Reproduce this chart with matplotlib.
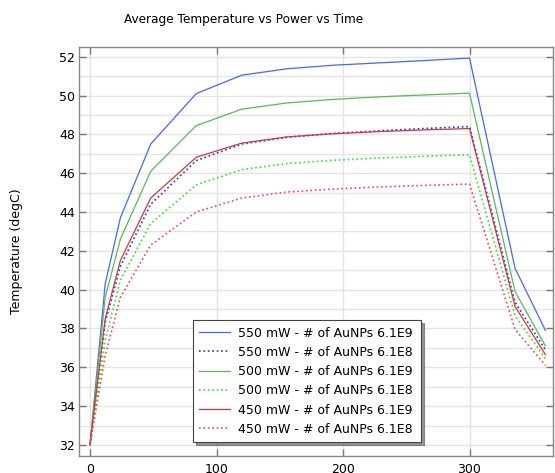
import matplotlib
matplotlib.use("Agg")
import matplotlib.pyplot as plt
from matplotlib.ticker import MultipleLocator

# Sample times (s)
time = [0, 12, 24, 48, 84, 120, 156, 192, 228, 264, 300, 336, 360]

# Average temperature (degC) per laser power / nanoparticle count
t550_e9 = [32.0, 40.3, 43.7, 47.5, 50.1, 51.05, 51.38, 51.56, 51.68, 51.8, 51.93, 41.1, 37.9]
t550_e8 = [32.0, 38.3, 41.2, 44.4, 46.65, 47.5, 47.85, 48.05, 48.18, 48.3, 48.4, 39.35, 36.9]
t500_e9 = [32.0, 39.6, 42.6, 46.1, 48.45, 49.3, 49.62, 49.8, 49.93, 50.03, 50.12, 39.9, 37.1]
t500_e8 = [32.0, 37.4, 40.5, 43.4, 45.4, 46.18, 46.5, 46.66, 46.78, 46.87, 46.95, 38.65, 36.45]
t450_e9 = [32.0, 38.5, 41.5, 44.72, 46.82, 47.55, 47.87, 48.03, 48.14, 48.23, 48.3, 39.13, 36.65]
t450_e8 = [32.0, 36.6, 39.6, 42.3, 44.0, 44.72, 45.03, 45.18, 45.29, 45.37, 45.44, 37.95, 36.1]

labels = [
    "550 mW - # of AuNPs 6.1E9",
    "550 mW - # of AuNPs 6.1E8",
    "500 mW - # of AuNPs 6.1E9",
    "500 mW - # of AuNPs 6.1E8",
    "450 mW - # of AuNPs 6.1E9",
    "450 mW - # of AuNPs 6.1E8",
]
series = [t550_e9, t550_e8, t500_e9, t500_e8, t450_e9, t450_e8]
colors = ["#4466ff", "#2233ee", "#55bb55", "#22ee22", "#dd3333", "#ff4444"]
styles = ["-", ":", "-", ":", "-", ":"]

plt.rcParams["font.family"] = "DejaVu Sans"
plt.rcParams["font.size"] = 9

fig = plt.figure(figsize=(5.55, 4.73), dpi=100)
ax = fig.add_axes([79 / 555, 1 - 456 / 473, (553 - 79) / 555, (456 - 47) / 473])

for vals, lab, col, ls in zip(series, labels, colors, styles):
    lw = 0.9 if ls == "-" else 1.2
    ax.plot(time, vals, color=col, linestyle=ls, linewidth=lw, label=lab)

ax.set_xlim(-8.7, 366)
ax.set_ylim(31.43, 52.5)
ax.xaxis.set_major_locator(MultipleLocator(100))
ax.yaxis.set_major_locator(MultipleLocator(2))
ax.yaxis.set_minor_locator(MultipleLocator(1))
ax.grid(which="major", color="#e4e4e4", linewidth=1.0)
ax.grid(which="minor", axis="y", color="#e4e4e4", linewidth=1.0)
ax.set_axisbelow(True)
ax.tick_params(which="major", direction="in", length=5, width=1, color="#777777",
               top=True, right=True, labelsize=9)
ax.tick_params(axis="y", pad=3)
ax.tick_params(axis="x", pad=5)
ax.tick_params(which="minor", length=0)
for s in ax.spines.values():
    s.set_color("#888888")
    s.set_linewidth(1.0)

ax.set_ylabel("Temperature (degC)", fontsize=9)
ax.yaxis.set_label_coords(-56 / 474, 0.5)
fig.text(244 / 555, 1 - 20 / 473, "Average Temperature vs Power vs Time",
         ha="center", va="center", fontsize=8.7)

leg = ax.legend(loc="lower left", bbox_to_anchor=(0.2405, 0.034, 0.4815, 0.296),
                mode="expand", fancybox=False, shadow={"color": "#666666", "alpha": 0.7},
                edgecolor="#444444", framealpha=1, handlelength=2.5, handletextpad=0.6,
                fontsize=9, labelspacing=0.5, borderaxespad=0, borderpad=0.5)
leg.get_frame().set_linewidth(0.8)

fig.savefig("out.png", dpi=100)
